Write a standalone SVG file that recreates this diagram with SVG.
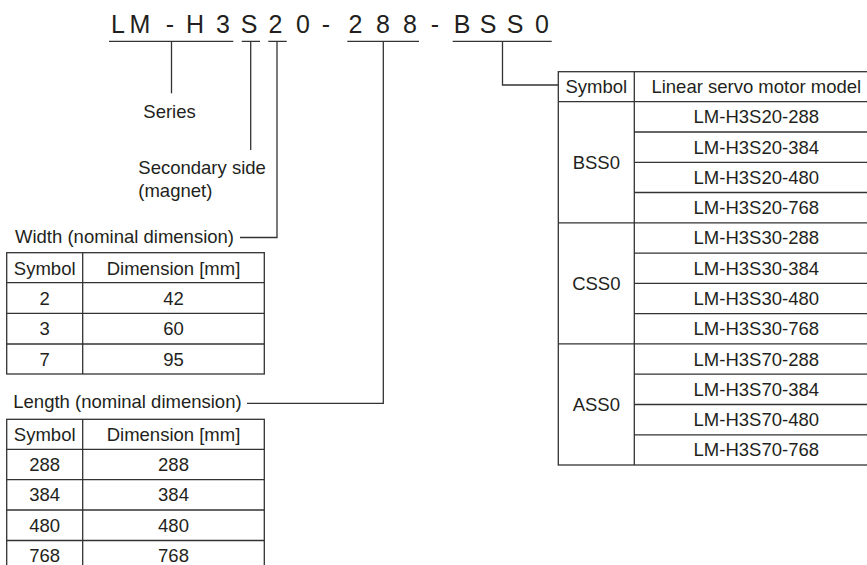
<svg xmlns="http://www.w3.org/2000/svg" width="867" height="565" viewBox="0 0 867 565">
<style>
text{font-family:"Liberation Sans",Arial,sans-serif;fill:#231f20}
.code{font-size:25px;text-anchor:middle}
.t{font-size:18.5px}
.c{font-size:18.5px;text-anchor:middle}
.ln{stroke:#333;stroke-width:1.3;fill:none}
.tb{stroke:#333;stroke-width:1.3;fill:none}
</style>
<rect width="867" height="565" fill="#fff"/>
<g id="model-code">
<text class="code" x="118" y="33">L</text>
<text class="code" x="140" y="33">M</text>
<text class="code" x="170" y="33">-</text>
<text class="code" x="195" y="33">H</text>
<text class="code" x="223" y="33">3</text>
<text class="code" x="249" y="33">S</text>
<text class="code" x="275.5" y="33">2</text>
<text class="code" x="303" y="33">0</text>
<text class="code" x="326" y="33">-</text>
<text class="code" x="355.5" y="33">2</text>
<text class="code" x="383" y="33">8</text>
<text class="code" x="410" y="33">8</text>
<text class="code" x="435" y="33">-</text>
<text class="code" x="462" y="33">B</text>
<text class="code" x="488" y="33">S</text>
<text class="code" x="515" y="33">S</text>
<text class="code" x="542" y="33">0</text>
<path class="ln" d="M109,41.3H233.3M241.7,41.3H260M268.3,41.3H286.7M347.3,41.3H419M452.7,41.3H551.7"/>
</g>
<g id="series">
<text class="t" x="143.3" y="118">Series</text>
</g>
<g id="secondary">
<text class="t" x="138.3" y="174.3">Secondary side</text>
<text class="t" x="138.3" y="196.5">(magnet)</text>
</g>
<g id="width-table">
<text class="t" x="15" y="242.5">Width (nominal dimension)</text>
<rect class="tb" x="6.7" y="252.7" width="257.6" height="121.3"/>
<path class="tb" d="M6.7,282.7H264.3M6.7,313.3H264.3M6.7,344H264.3M82.7,252.7V374"/>
<text class="c" x="44.7" y="274.6">Symbol</text>
<text class="c" x="173.5" y="274.6">Dimension [mm]</text>
<text class="c" x="44.7" y="304.9">2</text>
<text class="c" x="173.5" y="304.9">42</text>
<text class="c" x="44.7" y="335.4">3</text>
<text class="c" x="173.5" y="335.4">60</text>
<text class="c" x="44.7" y="365.8">7</text>
<text class="c" x="173.5" y="365.8">95</text>
</g>
<g id="length-table">
<text class="t" x="13.3" y="408">Length (nominal dimension)</text>
<rect class="tb" x="6.7" y="419.3" width="257.6" height="152"/>
<path class="tb" d="M6.7,449.3H264.3M6.7,479.6H264.3M6.7,510H264.3M6.7,540.5H264.3M82.7,419.3V571"/>
<text class="c" x="44.7" y="440.9">Symbol</text>
<text class="c" x="173.5" y="440.9">Dimension [mm]</text>
<text class="c" x="44.7" y="471">288</text>
<text class="c" x="173.5" y="471">288</text>
<text class="c" x="44.7" y="501.3">384</text>
<text class="c" x="173.5" y="501.3">384</text>
<text class="c" x="44.7" y="531.6">480</text>
<text class="c" x="173.5" y="531.6">480</text>
<text class="c" x="44.7" y="562">768</text>
<text class="c" x="173.5" y="562">768</text>
</g>
<g id="model-table">
<rect class="tb" x="558.3" y="71.7" width="320" height="393.3"/>
<path class="tb" d="M558.3,101.7H878.3M634.3,132H878.3M634.3,162.3H878.3M634.3,192.5H878.3M558.3,222.8H878.3M634.3,253.1H878.3M634.3,283.4H878.3M634.3,313.7H878.3M558.3,343.9H878.3M634.3,374.2H878.3M634.3,404.5H878.3M634.3,434.8H878.3M634.3,71.7V465"/>
<text class="c" x="596.3" y="93.3">Symbol</text>
<text class="c" x="756.3" y="93.3">Linear servo motor model</text>
<text class="c" x="596.3" y="168.9">BSS0</text>
<text class="c" x="596.3" y="290">CSS0</text>
<text class="c" x="596.3" y="411.1">ASS0</text>
<text class="c" x="756.3" y="123.3">LM-H3S20-288</text>
<text class="c" x="756.3" y="153.6">LM-H3S20-384</text>
<text class="c" x="756.3" y="183.9">LM-H3S20-480</text>
<text class="c" x="756.3" y="214.1">LM-H3S20-768</text>
<text class="c" x="756.3" y="244.4">LM-H3S30-288</text>
<text class="c" x="756.3" y="274.7">LM-H3S30-384</text>
<text class="c" x="756.3" y="305">LM-H3S30-480</text>
<text class="c" x="756.3" y="335.3">LM-H3S30-768</text>
<text class="c" x="756.3" y="365.5">LM-H3S70-288</text>
<text class="c" x="756.3" y="395.8">LM-H3S70-384</text>
<text class="c" x="756.3" y="426.1">LM-H3S70-480</text>
<text class="c" x="756.3" y="456.4">LM-H3S70-768</text>
</g>
<g id="connectors">
<path class="ln" d="M171.5,41.3V93.3"/>
<path class="ln" d="M250.7,41.3V150"/>
<path class="ln" d="M277,41.3V237.5H240"/>
<path class="ln" d="M383.3,41.3V403.3H247"/>
<path class="ln" d="M502.5,41.3V85H558.3"/>
</g>
</svg>
